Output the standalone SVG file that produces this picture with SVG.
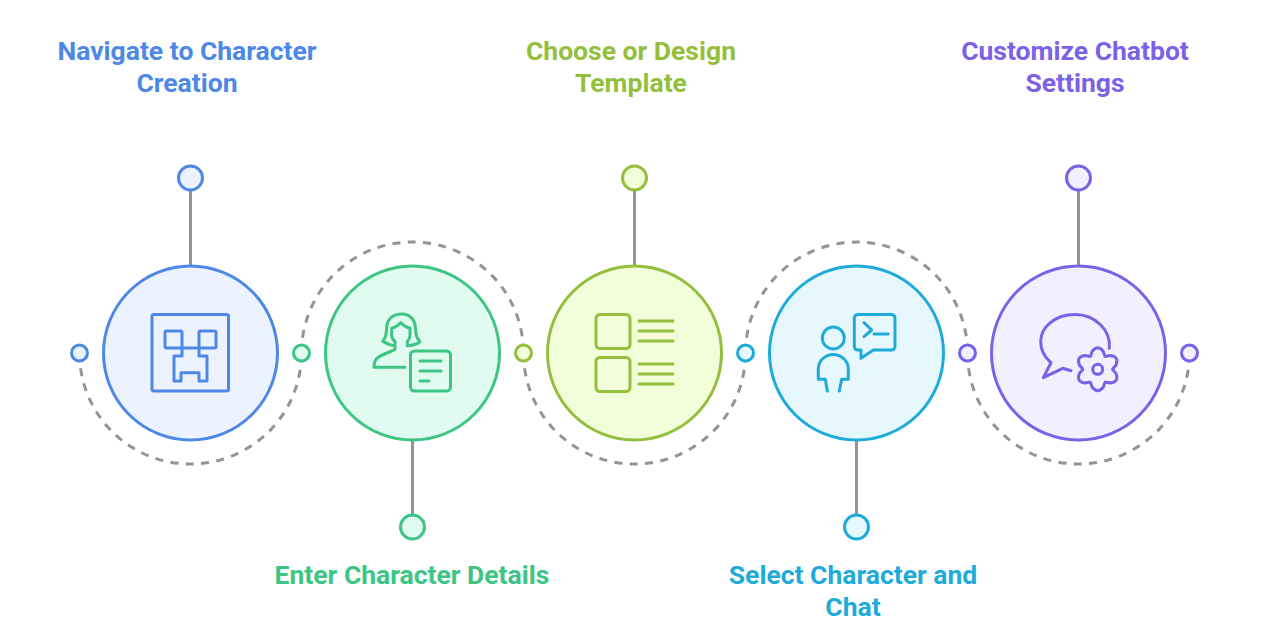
<svg xmlns="http://www.w3.org/2000/svg" width="1274" height="643" viewBox="0 0 1274 643">
<style>
.c{fill:none;stroke:#949494;stroke-width:3;stroke-linecap:butt}
.d{stroke-dasharray:8 7.400}
.t{font-family:Roboto,"Liberation Sans",sans-serif;font-weight:700;font-size:26.500px;text-anchor:middle}
.m{stroke-width:3;}
.i{fill:none;stroke-width:3;stroke-linecap:round;stroke-linejoin:round}
.blue{stroke:#4e88e7}.blue .m,.blue.m{fill:#edf3fe}.blue text{fill:#4e88e7;stroke:none}
.green{stroke:#3cc583}.green .m{fill:#e2fbf0}.green text{fill:#3cc583;stroke:none}
.lime{stroke:#93bf3c}.lime .m{fill:#f2fdd9}.lime text{fill:#93bf3c;stroke:none}
.cyan{stroke:#1eabda}.cyan .m{fill:#e6f8fe}.cyan text{fill:#1eabda;stroke:none}
.purple{stroke:#7b61e8}.purple .m{fill:#f2f0fe}.purple text{fill:#7b61e8;stroke:none}
</style>
<defs>
<path id="lobe" d="M-7.500 -13C-6.500 -14 -6.500 -16 -5.500 -18Q0 -25 5.500 -18C6.500 -16 6.500 -14 7.500 -13"/>
</defs>
<rect width="1274" height="643" fill="#ffffff"/>
<g id="connectors">
<path class="c" d="M190.500 190V265"/>
<path class="c" d="M412.500 441V515"/>
<path class="c" d="M634.500 190V265"/>
<path class="c" d="M856.500 441V515"/>
<path class="c" d="M1078.500 190V265"/>
<path class="c d" d="M79.500 353A111 111 0 0 0 301.500 353"/>
<path class="c d" d="M301.500 353A111 111 0 0 1 523.500 353"/>
<path class="c d" d="M523.500 353A111 111 0 0 0 745.500 353"/>
<path class="c d" d="M745.500 353A111 111 0 0 1 967.500 353"/>
<path class="c d" d="M967.500 353A111 111 0 0 0 1189.500 353"/>
</g>
<g id="node-1" class="blue">
<text class="t" x="187" y="60">Navigate to Character</text>
<text class="t" x="187" y="92">Creation</text>
<circle class="m" cx="190.500" cy="178" r="12"/>
<circle class="m" cx="79.500" cy="353" r="8"/>
<circle class="m" cx="190.500" cy="353" r="87"/>
<g class="i">
<rect x="152" y="314.500" width="76.500" height="76.500" rx="2"/>
<rect x="165" y="331" width="17" height="17" rx="1.500"/>
<rect x="199" y="331" width="17" height="17" rx="1.500"/>
<path d="M182 348H199M182 348V356H174V381H181V372.700H199V381H207V356H199V348"/>
</g>
</g>
<g id="node-2" class="green">
<text class="t" x="412" y="584">Enter Character Details</text>
<circle class="m" cx="412.500" cy="527" r="12"/>
<circle class="m" cx="301.500" cy="353" r="8"/>
<circle class="m" cx="412.500" cy="353" r="87"/>
<g class="i">
<rect x="410.500" y="351" width="40" height="40" rx="4"/>
<path d="M420 361H441M420 371H441M420 381H429"/>
<path d="M405 367.300H374C374 362 375 359.500 378 357.500C382 354.500 390 352 395 349.500V341.700C392.500 339.500 391.700 338 391.700 335V328.300C395 327.500 398 325.500 400.700 322.700C403.500 325.500 406.500 327.500 410 328.300V335C410 338 409 339.500 407.300 341.700V345.700C412 345.500 417 344 420 341.700C416.500 338.500 415.500 334 415.500 328C415 319 409 314 401.700 314C393 314 387.500 319 386.700 327C386.200 334 386 338 382.700 341C386 343.500 390 345 395 346"/>
</g>
</g>
<g id="node-3" class="lime">
<text class="t" x="631" y="60">Choose or Design</text>
<text class="t" x="631" y="92">Template</text>
<circle class="m" cx="634.500" cy="178" r="12"/>
<circle class="m" cx="523.500" cy="353" r="8"/>
<circle class="m" cx="634.500" cy="353" r="87"/>
<g class="i">
<rect x="596" y="314.500" width="34" height="34" rx="4"/>
<rect x="596" y="357.500" width="34" height="34" rx="4"/>
<path d="M639 321H673M639 331H673M639 341H673M639 364H673M639 374H673M639 384H673"/>
</g>
</g>
<g id="node-4" class="cyan">
<text class="t" x="853" y="584">Select Character and</text>
<text class="t" x="853" y="616">Chat</text>
<circle class="m" cx="856.500" cy="527" r="12"/>
<circle class="m" cx="745.500" cy="353" r="8"/>
<circle class="m" cx="856.500" cy="353" r="87"/>
<g class="i">
<circle cx="833.300" cy="338" r="11"/>
<path d="M827.300 391L825.300 379.300H818.300V369C818.300 361 825 354.500 833.300 354.500C841.500 354.500 848.300 361 848.300 369V379.300H841.700L839.300 391"/>
<path d="M861 350H858.300Q854.300 350 854.300 346V318.500Q854.300 314.500 858.300 314.500H891Q895 314.500 895 318.500V346Q895 350 891 350H873.300L861 358.300Z"/>
<path d="M864 322.700L871.700 330L864 336.700M874 334H888.300"/>
</g>
</g>
<g id="node-5" class="purple">
<text class="t" x="1075" y="60">Customize Chatbot</text>
<text class="t" x="1075" y="92">Settings</text>
<circle class="m" cx="1078.500" cy="178" r="12"/>
<circle class="m" cx="967.500" cy="353" r="8"/>
<circle class="m" cx="1189.500" cy="353" r="8"/>
<circle class="m" cx="1078.500" cy="353" r="87"/>
<g class="i">
<path d="M1109.300 348.300C1111 330 1095 314.500 1075 314.500C1055 314.500 1040.700 327 1040.700 341.700C1040.700 350.500 1045 357.500 1051 362.700L1043.300 377.700L1062.700 368.300L1071 370.700"/>
<g transform="translate(1097.700 369.300)">
<circle r="5"/>
<use href="#lobe"/>
<use href="#lobe" transform="rotate(60)"/>
<use href="#lobe" transform="rotate(120)"/>
<use href="#lobe" transform="rotate(180)"/>
<use href="#lobe" transform="rotate(240)"/>
<use href="#lobe" transform="rotate(300)"/>
</g>
</g>
</g>
</svg>
